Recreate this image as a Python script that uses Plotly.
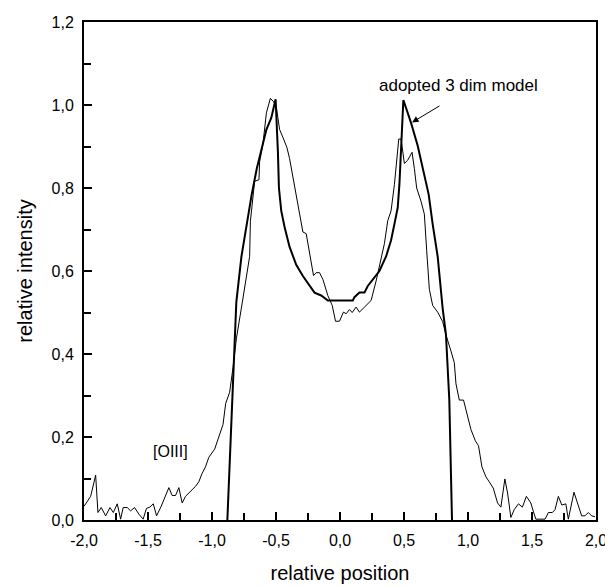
import plotly.graph_objects as go

# observed [OIII] profile (thin line)
obs_x = [-2.0, -1.948, -1.909, -1.891, -1.865, -1.831, -1.797, -1.771, -1.740, -1.714,
         -1.694, -1.662, -1.636, -1.605, -1.571, -1.538, -1.512, -1.485, -1.459, -1.433,
         -1.397, -1.363, -1.337, -1.311, -1.285, -1.259, -1.233, -1.207, -1.168, -1.129,
         -1.103, -1.078, -1.051, -1.025, -0.979, -0.953, -0.914, -0.893, -0.862, -0.836,
         -0.809, -0.763, -0.706, -0.700, -0.680, -0.667, -0.633, -0.628, -0.602, -0.575,
         -0.544, -0.519, -0.498, -0.472, -0.446, -0.415, -0.394, -0.355, -0.316, -0.290,
         -0.264, -0.238, -0.207, -0.186, -0.160, -0.134, -0.095, -0.061, -0.035, -0.004,
         0.027, 0.048, 0.074, 0.095, 0.126, 0.152, 0.191, 0.243, 0.282, 0.321,
         0.347, 0.373, 0.399, 0.425, 0.443, 0.459, 0.477, 0.503, 0.529, 0.563,
         0.581, 0.599, 0.633, 0.659, 0.677, 0.698, 0.724, 0.763, 0.802, 0.828,
         0.867, 0.893, 0.906, 0.932, 0.965, 0.997, 1.023, 1.057, 1.082, 1.109,
         1.140, 1.166, 1.197, 1.231, 1.257, 1.288, 1.309, 1.335, 1.361, 1.394,
         1.425, 1.456, 1.491, 1.509, 1.530, 1.602, 1.628, 1.659, 1.680, 1.706,
         1.733, 1.764, 1.784, 1.828, 1.860, 1.888, 1.914, 1.940, 1.966, 1.992]
obs_y = [0.033, 0.057, 0.108, 0.018, 0.030, 0.010, 0.030, 0.018, 0.039, 0.002,
         0.030, 0.030, 0.022, 0.030, 0.014, 0.002, 0.028, 0.031, 0.039, 0.010,
         0.033, 0.057, 0.078, 0.059, 0.059, 0.078, 0.041, 0.057, 0.069, 0.081,
         0.092, 0.112, 0.128, 0.151, 0.171, 0.195, 0.230, 0.281, 0.308, 0.367,
         0.438, 0.525, 0.635, 0.720, 0.788, 0.816, 0.820, 0.863, 0.906, 0.981,
         1.016, 1.008, 0.996, 0.941, 0.922, 0.898, 0.871, 0.808, 0.745, 0.694,
         0.690, 0.643, 0.589, 0.596, 0.596, 0.580, 0.541, 0.517, 0.479, 0.479,
         0.501, 0.497, 0.507, 0.500, 0.513, 0.501, 0.513, 0.529, 0.576, 0.627,
         0.666, 0.721, 0.745, 0.808, 0.863, 0.918, 0.918, 0.859, 0.867, 0.886,
         0.847, 0.800, 0.768, 0.737, 0.650, 0.556, 0.517, 0.501, 0.478, 0.446,
         0.407, 0.379, 0.328, 0.289, 0.289, 0.246, 0.218, 0.191, 0.179, 0.128,
         0.104, 0.092, 0.077, 0.041, 0.031, 0.099, 0.065, 0.006, 0.025, 0.039,
         0.031, 0.057, 0.041, 0.022, 0.002, 0.002, 0.018, 0.018, 0.025, 0.057,
         0.036, 0.039, 0.002, 0.067, 0.037, 0.010, 0.010, 0.018, 0.010, 0.008]

# adopted 3 dim model (thick line)
model_x = [-0.88, -0.81, -0.77, -0.73, -0.69, -0.65, -0.61, -0.575, -0.537, -0.503,
           -0.485, -0.477, -0.459, -0.433, -0.394, -0.342, -0.29, -0.238, -0.199, -0.147,
           -0.095, 0.1, 0.113, 0.152, 0.191, 0.217, 0.256, 0.308, 0.36, 0.399,
           0.425, 0.451, 0.464, 0.477, 0.495, 0.529, 0.555, 0.607, 0.646, 0.693,
           0.724, 0.763, 0.802, 0.828, 0.854, 0.875]
model_y = [0, 0.525, 0.635, 0.713, 0.784, 0.847, 0.894, 0.941, 0.969, 1.014,
           0.886, 0.80, 0.745, 0.706, 0.658, 0.615, 0.588, 0.564, 0.548, 0.541,
           0.529, 0.529, 0.537, 0.548, 0.548, 0.564, 0.580, 0.600, 0.635, 0.674,
           0.713, 0.753, 0.808, 0.886, 1.012, 0.981, 0.957, 0.902, 0.847, 0.784,
           0.713, 0.635, 0.51, 0.446, 0.289, 0]

x_tickvals = [-2.0, -1.5, -1.0, -0.5, 0.0, 0.5, 1.0, 1.5, 2.0]
x_ticktext = ["-2,0", "-1,5", "-1,0", "-0,5", "0,0", "0,5", "1,0", "1,5", "2,0"]
y_tickvals = [0.0, 0.2, 0.4, 0.6, 0.8, 1.0, 1.2]
y_ticktext = ["0,0", "0,2", "0,4", "0,6", "0,8", "1,0", "1,2"]

font = "Liberation Sans, Arial, sans-serif"

fig = go.Figure()
fig.add_trace(go.Scatter(x=obs_x, y=obs_y, mode="lines",
                         line=dict(color="black", width=1), showlegend=False))
fig.add_trace(go.Scatter(x=model_x, y=model_y, mode="lines",
                         line=dict(color="black", width=2), showlegend=False))

fig.add_annotation(x=0.928, y=1.048, xref="x", yref="y", text="adopted 3 dim model",
                   showarrow=False, xanchor="center", yanchor="middle",
                   font=dict(family=font, size=17, color="black"))
fig.add_annotation(x=0.563, y=0.958, ax=0.789, ay=1.0, xref="x", yref="y",
                   axref="x", ayref="y", text="", showarrow=True,
                   arrowhead=2, arrowsize=1.3, arrowwidth=1, arrowcolor="black")
fig.add_annotation(x=-1.326, y=0.164, xref="x", yref="y", text="[OIII]",
                   showarrow=False, font=dict(family=font, size=16, color="black"))

axis_common = dict(showgrid=False, zeroline=False, showline=True, linecolor="black",
                   linewidth=2, mirror=True, ticks="inside", ticklen=8,
                   tickwidth=1.5, tickcolor="black", ticklabelstandoff=5,
                   ticklabeloverflow="allow",
                   tickfont=dict(family=font, size=16, color="black"))

fig.update_xaxes(range=[-2, 2], tickvals=x_tickvals, ticktext=x_ticktext,
                 title=dict(text="relative position", standoff=18,
                            font=dict(family=font, size=20, color="black")),
                 minor=dict(dtick=0.25, tick0=0, ticks="inside", ticklen=7,
                            tickwidth=1.5, tickcolor="black"),
                 **axis_common)
fig.update_yaxes(range=[0, 1.2], tickvals=y_tickvals, ticktext=y_ticktext,
                 title=dict(text="relative intensity", standoff=14,
                            font=dict(family=font, size=20, color="black")),
                 minor=dict(dtick=0.1, tick0=0, ticks="inside", ticklen=7,
                            tickwidth=1.5, tickcolor="black"),
                 **axis_common)

# page body adds an 8px margin, so the figure is shrunk to fit the window
fig.update_layout(width=605, height=579, plot_bgcolor="white", paper_bgcolor="white",
                  margin=dict(l=76, r=16, t=6, b=65))

fig.write_html("out.html")
